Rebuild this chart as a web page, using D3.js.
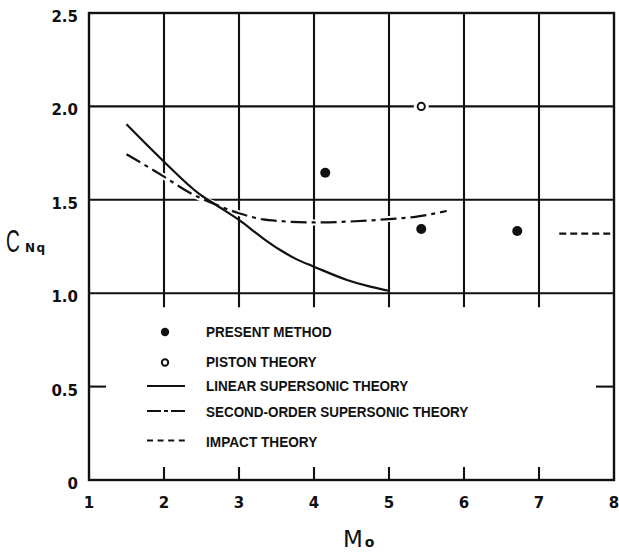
<!DOCTYPE html>
<html>
<head>
<meta charset="utf-8">
<script src="https://cdn.jsdelivr.net/npm/d3@7"></script>
<style>
  html, body { margin: 0; padding: 0; background: #fff; }
  svg { display: block; }
</style>
</head>
<body>
<svg id="chart" width="619" height="552"></svg>
<script>
// ---------- data ----------
const xTicks = [1, 2, 3, 4, 5, 6, 7, 8];
const xTickLabels = ["1", "2", "3", "4", "5", "6", "7", "8"];
const yTicks = [0, 0.5, 1.0, 1.5, 2.0, 2.5];
const yTickLabels = ["0", "0.5", "1.0", "1.5", "2.0", "2.5"];
const gridY = [1.0, 1.5, 2.0];
const gridX = [2, 3, 4, 5, 6, 7];

const presentX = [4.15, 5.43, 6.71];
const presentY = [1.645, 1.344, 1.333];

const pistonX = [5.43];
const pistonY = [2.0];

const linearX = [1.5, 2.0, 2.46, 2.68, 3.0, 3.32, 3.55, 3.77, 4.0, 4.44, 4.75, 5.0];
const linearY = [1.904, 1.704, 1.535, 1.476, 1.392, 1.294, 1.231, 1.181, 1.142, 1.071, 1.035, 1.013];

const secondX = [1.5, 2.0, 2.32, 2.68, 3.0, 3.32, 3.55, 4.0, 4.44, 5.0, 5.37, 5.77];
const secondY = [1.744, 1.624, 1.543, 1.476, 1.428, 1.395, 1.386, 1.379, 1.383, 1.397, 1.41, 1.44];

const impactX = [7.27, 8.0];
const impactY = [1.319, 1.319];

const legendLabels = ["PRESENT METHOD", "PISTON THEORY", "LINEAR SUPERSONIC THEORY",
                      "SECOND-ORDER SUPERSONIC THEORY", "IMPACT THEORY"];
const legendKinds = ["dot", "circle", "solid", "dashdot", "dash"];

// ---------- layout ----------
const L = 89, R = 614, T = 13, B = 480;
const legendTextWidths = [125.7, 110.7, 202.3, 262.3, 111.3];
const legendBaselines = [337, 367, 391, 417, 446.5];
const legendMarkY = [332, 362.5, 386, 411, 440.5];

const svg = d3.select("#chart");
const x = d3.scaleLinear().domain([1, 8]).range([L, R]);
const y = d3.scaleLinear().domain([0, 2.5]).range([B, T]);

const ink = "#111";
const gridW = 2.1;

// grid horizontals
svg.append("g").selectAll("line").data(gridY).join("line")
  .attr("x1", L).attr("x2", R)
  .attr("y1", d => y(d)).attr("y2", d => y(d))
  .attr("stroke", ink).attr("stroke-width", gridW);

// grid verticals (top down to a bit below 1.0)
svg.append("g").selectAll("line").data(gridX).join("line")
  .attr("x1", d => x(d)).attr("x2", d => x(d))
  .attr("y1", T).attr("y2", y(1.0) + 14)
  .attr("stroke", ink).attr("stroke-width", gridW);

// bottom ticks (inward)
svg.append("g").selectAll("line").data(gridX).join("line")
  .attr("x1", d => x(d)).attr("x2", d => x(d))
  .attr("y1", B).attr("y2", B - 13)
  .attr("stroke", ink).attr("stroke-width", gridW);

// 0.5 ticks left & right
svg.append("line").attr("x1", L).attr("x2", L + 17)
  .attr("y1", y(0.5)).attr("y2", y(0.5)).attr("stroke", ink).attr("stroke-width", gridW);
svg.append("line").attr("x1", R - 18).attr("x2", R)
  .attr("y1", y(0.5)).attr("y2", y(0.5)).attr("stroke", ink).attr("stroke-width", gridW);

// frame
svg.append("rect").attr("x", L).attr("y", T).attr("width", R - L).attr("height", B - T)
  .attr("fill", "none").attr("stroke", ink).attr("stroke-width", 2.4);

// tick labels
svg.append("g").selectAll("text").data(yTicks).join("text")
  .attr("x", 78).attr("y", d => y(d) + 9)
  .attr("text-anchor", "end")
  .attr("font-family", "DejaVu Sans").attr("font-weight", "bold").attr("font-size", 15)
  .attr("fill", ink)
  .text((d, i) => yTickLabels[i]);

svg.append("g").selectAll("text").data(xTicks).join("text")
  .attr("x", d => x(d)).attr("y", 508)
  .attr("text-anchor", "middle")
  .attr("font-family", "DejaVu Sans").attr("font-weight", "bold").attr("font-size", 15)
  .attr("fill", ink)
  .text((d, i) => xTickLabels[i]);

// axis titles
const xt = svg.append("text").attr("x", 343).attr("y", 547)
  .attr("font-family", "DejaVu Sans").attr("fill", ink);
xt.append("tspan").attr("font-size", 23).text("M");
xt.append("tspan").attr("font-size", 14).attr("font-weight", "bold").attr("dx", 2).text("o");

svg.append("text").attr("transform", "translate(6,252) scale(0.6,1)")
  .attr("font-family", "Liberation Sans").attr("font-size", 32).attr("fill", ink)
  .text("C");
svg.append("text").attr("x", 25).attr("y", 252)
  .attr("font-family", "DejaVu Sans").attr("font-weight", "bold").attr("font-size", 12)
  .attr("letter-spacing", 1.5).attr("fill", ink).text("Nq");

// curves
const line = d3.line().x(d => x(d[0])).y(d => y(d[1])).curve(d3.curveMonotoneX);
const linearPts = linearX.map((v, i) => [v, linearY[i]]);
const secondPts = secondX.map((v, i) => [v, secondY[i]]);
const impactPts = impactX.map((v, i) => [v, impactY[i]]);

svg.append("path").attr("d", line(secondPts))
  .attr("fill", "none").attr("stroke", "#fff").attr("stroke-width", 6);
svg.append("path").attr("d", line(linearPts))
  .attr("fill", "none").attr("stroke", ink).attr("stroke-width", 2.2);
svg.append("path").attr("d", line(secondPts))
  .attr("fill", "none").attr("stroke", ink).attr("stroke-width", 2.2)
  .attr("stroke-dasharray", "16,5,4,5");
svg.append("path").attr("d", line(impactPts))
  .attr("fill", "none").attr("stroke", ink).attr("stroke-width", 2.4)
  .attr("stroke-dasharray", "7,4");

// points
svg.append("g").selectAll("circle").data(presentX).join("circle")
  .attr("cx", d => x(d)).attr("cy", (d, i) => y(presentY[i]))
  .attr("r", 5).attr("fill", ink);

const pg = svg.append("g");
pg.selectAll("circle.halo").data(pistonX).join("circle").attr("class", "halo")
  .attr("cx", d => x(d)).attr("cy", (d, i) => y(pistonY[i]))
  .attr("r", 7.5).attr("fill", "#fff");
pg.selectAll("circle.pt").data(pistonX).join("circle").attr("class", "pt")
  .attr("cx", d => x(d)).attr("cy", (d, i) => y(pistonY[i]))
  .attr("r", 3.6).attr("fill", "#fff").attr("stroke", ink).attr("stroke-width", 2);

// legend
const lg = svg.append("g");
legendLabels.forEach((lab, i) => {
  const my = legendMarkY[i];
  const k = legendKinds[i];
  if (k === "dot") {
    lg.append("circle").attr("cx", 165).attr("cy", my).attr("r", 4.2).attr("fill", ink);
  } else if (k === "circle") {
    lg.append("circle").attr("cx", 165).attr("cy", my).attr("r", 3.2)
      .attr("fill", "#fff").attr("stroke", ink).attr("stroke-width", 2);
  } else {
    const ln = lg.append("line").attr("x1", 147).attr("x2", 185)
      .attr("y1", my).attr("y2", my).attr("stroke", ink).attr("stroke-width", 2.2);
    if (k === "dashdot") ln.attr("stroke-dasharray", "14,3,4,3");
    if (k === "dash") ln.attr("stroke-dasharray", "6,4.6");
  }
  lg.append("text").attr("x", 206).attr("y", legendBaselines[i])
    .attr("font-family", "Liberation Sans").attr("font-weight", "bold").attr("font-size", 14)
    .attr("fill", ink)
    .attr("textLength", legendTextWidths[i]).attr("lengthAdjust", "spacingAndGlyphs")
    .text(lab);
});
</script>
</body>
</html>
